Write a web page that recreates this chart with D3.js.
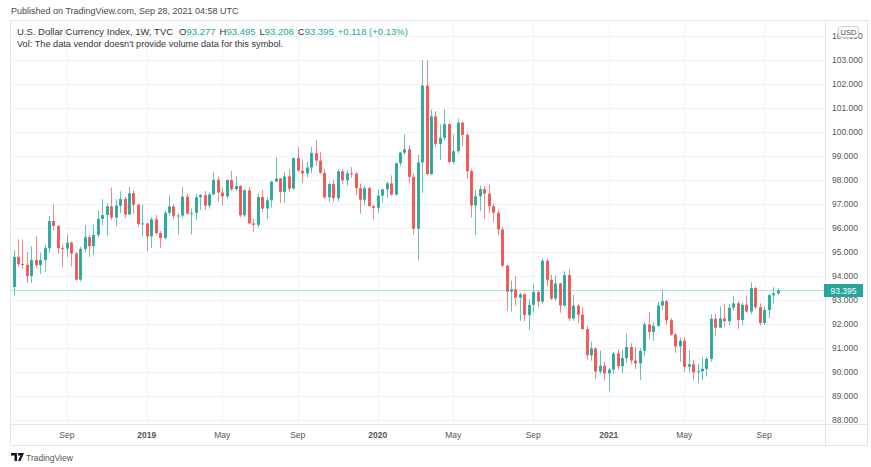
<html>
<head>
<meta charset="utf-8">
<title>U.S. Dollar Currency Index, 1W</title>
<script src="https://d3js.org/d3.v7.min.js"></script>
<style>
  body { margin: 0; background: #fff; }
  text { font-family: "Liberation Sans", Arial, sans-serif; }
</style>
</head>
<body>
<svg id="chart"></svg>
<script>
// weekly bars, first week starts Mon 11 Jun 2018
const open = [
  93.54, 94.80, 94.50, 94.47, 94.00, 94.67, 94.45, 94.67, 95.16, 96.29,
  96.09, 95.16, 95.14, 95.39, 94.94, 93.85, 95.13, 95.62, 95.24, 95.71,
  96.38, 96.54, 96.90, 96.44, 96.93, 97.21, 96.56, 97.45, 96.97, 96.17,
  96.19, 95.65, 96.36, 95.79, 95.58, 96.63, 96.90, 96.51, 96.52, 97.31,
  96.60, 96.63, 97.28, 97.37, 96.93, 97.40, 98.01, 97.48, 97.32, 98.00,
  97.62, 97.75, 96.53, 97.57, 96.19, 96.13, 97.29, 96.81, 97.15, 97.93,
  98.06, 97.51, 98.15, 97.64, 98.92, 98.39, 98.27, 98.52, 99.12, 98.81,
  98.30, 97.28, 97.83, 97.24, 98.36, 97.99, 98.28, 98.27, 97.66, 97.18,
  97.66, 96.91, 96.84, 97.35, 97.61, 97.86, 97.39, 98.70, 99.14, 99.28,
  98.13, 95.97, 98.73, 101.93, 98.25, 100.65, 99.50, 99.76, 100.33, 98.75,
  99.20, 100.39, 99.88, 98.37, 96.94, 97.32, 97.62, 97.43, 96.91, 96.64,
  95.94, 94.43, 93.35, 93.44, 93.10, 93.24, 92.37, 92.80, 93.33, 92.93,
  94.64, 93.84, 93.06, 93.69, 92.77, 94.04, 92.23, 92.76, 92.39, 91.79,
  90.70, 90.98, 90.02, 90.26, 89.94, 90.10, 90.77, 90.24, 90.58, 91.04,
  90.48, 90.36, 90.88, 91.98, 91.67, 91.92, 92.77, 92.95, 92.16, 91.56,
  91.07, 91.30, 90.22, 90.32, 89.99, 90.03, 90.13, 90.55, 92.22, 91.85,
  92.23, 92.12, 92.68, 92.86, 92.17, 92.80, 92.52, 93.50, 92.70, 92.04,
  92.58, 93.20, 93.277
];
const high = [
  95.08, 95.53, 95.53, 94.98, 95.24, 95.65, 94.97, 95.30, 96.50, 96.98,
  96.10, 95.30, 95.74, 95.43, 95.00, 95.21, 96.12, 95.72, 96.14, 96.71,
  97.20, 97.04, 97.69, 97.19, 97.53, 97.30, 97.71, 97.58, 97.00, 96.96,
  96.20, 96.44, 96.54, 95.87, 96.73, 97.37, 96.99, 96.63, 97.71, 97.44,
  96.82, 97.41, 97.42, 97.54, 97.48, 98.32, 98.15, 97.69, 98.04, 98.37,
  98.15, 97.79, 97.62, 97.70, 96.38, 97.44, 97.58, 97.29, 97.96, 98.93,
  98.08, 98.34, 98.44, 98.93, 99.37, 98.85, 98.77, 99.37, 99.67, 99.16,
  98.44, 97.89, 97.99, 98.45, 98.45, 98.39, 98.54, 98.33, 97.84, 97.76,
  97.72, 96.98, 97.60, 97.64, 97.93, 98.19, 98.72, 99.17, 99.91, 99.44,
  98.28, 99.05, 102.99, 102.99, 100.93, 100.87, 100.32, 100.93, 100.40, 99.90,
  100.56, 100.44, 99.97, 98.47, 97.58, 97.77, 97.75, 97.80, 97.02, 96.78,
  96.06, 94.46, 93.80, 93.99, 93.30, 93.26, 93.04, 93.66, 93.40, 94.74,
  94.72, 94.04, 94.02, 93.71, 94.20, 94.30, 93.21, 92.83, 92.70, 91.92,
  91.26, 91.04, 90.90, 90.42, 90.18, 90.83, 90.95, 90.93, 91.60, 91.20,
  91.05, 91.00, 92.09, 92.51, 92.09, 92.92, 93.44, 93.00, 92.25, 91.64,
  91.43, 91.44, 90.91, 90.52, 90.33, 90.63, 90.62, 92.40, 92.41, 92.74,
  92.84, 92.83, 93.19, 92.95, 92.89, 93.19, 93.73, 93.57, 92.86, 92.72,
  93.26, 93.53, 93.495
];
const low = [
  93.20, 94.40, 94.30, 93.71, 93.70, 94.35, 94.08, 94.17, 94.96, 95.90,
  94.94, 94.36, 94.78, 94.40, 93.81, 93.78, 94.98, 94.79, 94.88, 95.60,
  96.11, 95.68, 96.32, 96.08, 96.62, 96.42, 96.55, 96.58, 96.04, 95.65,
  95.03, 95.17, 95.71, 95.16, 95.53, 96.50, 96.37, 95.74, 96.43, 96.56,
  95.74, 96.33, 96.75, 96.75, 96.81, 97.37, 97.10, 96.94, 97.20, 97.55,
  97.55, 96.46, 96.46, 96.15, 95.84, 96.02, 96.67, 96.38, 96.86, 97.92,
  97.03, 97.05, 97.51, 97.61, 98.34, 97.88, 98.10, 98.28, 98.59, 98.25,
  97.22, 97.10, 97.11, 97.10, 97.83, 97.76, 98.09, 97.36, 96.60, 96.94,
  96.90, 96.36, 96.61, 97.08, 97.26, 97.34, 97.35, 98.57, 99.05, 97.87,
  95.73, 94.65, 97.46, 98.20, 98.20, 99.36, 98.82, 99.66, 98.70, 98.65,
  99.10, 99.41, 98.08, 96.43, 95.71, 96.70, 96.37, 96.63, 96.24, 95.71,
  94.37, 92.55, 92.52, 92.77, 92.13, 92.11, 91.75, 92.47, 92.70, 92.85,
  93.58, 92.99, 92.97, 92.47, 92.73, 92.12, 92.13, 92.04, 91.76, 90.51,
  90.47, 89.72, 89.92, 89.64, 89.21, 89.92, 90.10, 89.96, 90.39, 90.32,
  90.12, 89.68, 90.67, 91.38, 91.30, 91.88, 92.57, 91.95, 91.51, 90.79,
  90.42, 90.00, 89.98, 89.65, 89.53, 89.66, 89.81, 90.42, 91.51, 91.83,
  91.87, 91.95, 92.57, 91.78, 91.95, 92.47, 92.40, 92.62, 91.94, 91.95,
  92.25, 92.86, 93.208
];
const close = [
  94.80, 94.50, 94.47, 94.00, 94.67, 94.45, 94.67, 95.16, 96.29, 96.09,
  95.16, 95.14, 95.39, 94.94, 93.85, 95.13, 95.62, 95.24, 95.71, 96.38,
  96.54, 96.90, 96.44, 96.93, 97.21, 96.56, 97.45, 96.97, 96.17, 96.19,
  95.65, 96.36, 95.79, 95.58, 96.63, 96.90, 96.51, 96.52, 97.31, 96.60,
  96.63, 97.28, 97.37, 96.93, 97.40, 98.01, 97.48, 97.32, 98.00, 97.62,
  97.75, 96.53, 97.57, 96.19, 96.13, 97.29, 96.81, 97.15, 97.93, 98.06,
  97.51, 98.15, 97.64, 98.92, 98.39, 98.27, 98.52, 99.12, 98.81, 98.30,
  97.28, 97.83, 97.24, 98.36, 97.99, 98.28, 98.27, 97.66, 97.18, 97.66,
  96.91, 96.84, 97.35, 97.61, 97.86, 97.39, 98.70, 99.14, 99.28, 98.13,
  95.97, 98.73, 101.93, 98.25, 100.65, 99.50, 99.76, 100.33, 98.75, 99.20,
  100.39, 99.88, 98.37, 96.94, 97.32, 97.62, 97.43, 96.91, 96.64, 95.94,
  94.43, 93.35, 93.44, 93.10, 93.24, 92.37, 92.80, 93.33, 92.93, 94.64,
  93.84, 93.06, 93.69, 92.77, 94.04, 92.23, 92.76, 92.39, 91.79, 90.70,
  90.98, 90.02, 90.26, 89.94, 90.10, 90.77, 90.24, 90.58, 91.04, 90.48,
  90.36, 90.88, 91.98, 91.67, 91.92, 92.77, 92.95, 92.16, 91.56, 91.07,
  91.30, 90.22, 90.32, 89.99, 90.03, 90.13, 90.55, 92.22, 91.85, 92.23,
  92.12, 92.68, 92.86, 92.17, 92.80, 92.52, 93.50, 92.70, 92.04, 92.58,
  93.20, 93.28, 93.395
];

const priceTicks = [88, 89, 90, 91, 92, 93, 94, 95, 96, 97, 98, 99, 100, 101, 102, 103, 104];
const timeTicks = ["2018-09", "2019-01", "2019-05", "2019-09", "2020-01", "2020-05",
                   "2020-09", "2021-01", "2021-05", "2021-09"];
const timeLabels = ["Sep", "2019", "May", "Sep", "2020", "May", "Sep", "2021", "May", "Sep"];
const last = { o: "93.277", h: "93.495", l: "93.208", c: "93.395", chg: "+0.118 (+0.13%)" };

const width = 871, height = 467;
const up = "#26a69a", down = "#ef5350";
const grid = "#f0f3fa", border = "#e0e3eb";
const paneLeft = 10, paneRight = 825, paneTop = 20, paneBottom = 424;

const start = new Date(Date.UTC(2018, 5, 11));
const weeks = d3.utcMonday.range(start, d3.utcMonday.offset(start, close.length));
const bars = weeks.map((d, i) => ({date: d, o: open[i], h: high[i], l: low[i], c: close[i]}));

const svg = d3.select("#chart").attr("width", width).attr("height", height);

const x = d3.scalePoint().domain(d3.range(bars.length)).range([13.5, 777.5]);
const y = d3.scaleLinear().domain([88, 103]).range([420, 60]);

const fmtMonth = d3.utcFormat("%Y-%m");
const tickIdx = timeTicks.map(m => bars.findIndex(b => fmtMonth(b.date) === m));

// header
svg.append("text")
    .attr("x", 11).attr("y", 14)
    .attr("font-size", 9).attr("fill", "#4a4a4a")
    .text("Published on TradingView.com, Sep 28, 2021 04:58 UTC");

// frame
svg.append("rect")
    .attr("x", paneLeft + 0.5).attr("y", paneTop + 0.5)
    .attr("width", 857).attr("height", 425)
    .attr("fill", "none").attr("stroke", border);
svg.append("line")
    .attr("x1", paneLeft).attr("x2", 867).attr("y1", paneBottom + 0.5).attr("y2", paneBottom + 0.5)
    .attr("stroke", border);
svg.append("line")
    .attr("x1", paneRight + 0.5).attr("x2", paneRight + 0.5).attr("y1", paneTop).attr("y2", 445)
    .attr("stroke", border);

// grid
svg.append("g").selectAll("line")
    .data(priceTicks)
    .join("line")
    .attr("x1", paneLeft + 1).attr("x2", paneRight)
    .attr("y1", d => Math.round(y(d)) + 0.5).attr("y2", d => Math.round(y(d)) + 0.5)
    .attr("stroke", grid);
svg.append("g").selectAll("line")
    .data(tickIdx)
    .join("line")
    .attr("x1", d => Math.round(x(d)) + 0.5).attr("x2", d => Math.round(x(d)) + 0.5)
    .attr("y1", paneTop + 1).attr("y2", paneBottom)
    .attr("stroke", grid);

// last price line
svg.append("line")
    .attr("x1", paneLeft + 1).attr("x2", paneRight)
    .attr("y1", y(+last.c)).attr("y2", y(+last.c))
    .attr("stroke", "#b7e0db").attr("stroke-width", 1);

// candles
const candle = svg.append("g").selectAll("g")
    .data(bars)
    .join("g")
    .attr("fill", d => d.c >= d.o ? up : down)
    .attr("stroke", d => d.c >= d.o ? up : down);

candle.append("line")
    .attr("x1", (d, i) => Math.round(x(i)) + 0.5).attr("x2", (d, i) => Math.round(x(i)) + 0.5)
    .attr("y1", d => y(d.h)).attr("y2", d => y(d.l))
    .attr("stroke-width", 1).attr("stroke-opacity", 0.7);

candle.append("rect")
    .attr("x", (d, i) => Math.round(x(i)) - 1)
    .attr("width", 3)
    .attr("y", d => y(Math.max(d.o, d.c)))
    .attr("height", d => Math.max(1, Math.abs(y(d.o) - y(d.c))))
    .attr("stroke", "none")
    .attr("fill-opacity", 0.92);

// price axis (the USD badge sits on top of the 104 label, as in the original)
svg.append("g").selectAll("text")
    .data(priceTicks)
    .join("text")
    .attr("x", 832).attr("y", d => y(d) + 3)
    .attr("font-size", 8.5).attr("fill", "#555")
    .text(d => d3.format(".3f")(d));

// time axis
svg.append("g").selectAll("text")
    .data(tickIdx)
    .join("text")
    .attr("x", d => x(d)).attr("y", 438)
    .attr("text-anchor", "middle")
    .attr("font-size", 8.5).attr("fill", "#555")
    .attr("font-weight", (d, i) => /^\d/.test(timeLabels[i]) ? "bold" : "normal")
    .text((d, i) => timeLabels[i]);

// last price label
svg.append("rect")
    .attr("x", 824).attr("y", y(+last.c) - 6.5)
    .attr("width", 39).attr("height", 13)
    .attr("fill", up);
svg.append("text")
    .attr("x", 843.5).attr("y", y(+last.c) + 3)
    .attr("text-anchor", "middle")
    .attr("font-size", 8.5).attr("fill", "#fff")
    .text(last.c);

// currency badge
svg.append("rect")
    .attr("x", 838.5).attr("y", 26.5).attr("width", 20).attr("height", 11).attr("rx", 3)
    .attr("fill", "#fff").attr("stroke", "#c9ccd4");
svg.append("text")
    .attr("x", 848.5).attr("y", 35)
    .attr("text-anchor", "middle")
    .attr("font-size", 7.5).attr("fill", "#444")
    .text("USD");

// legend
const legend = svg.append("text")
    .attr("x", 17).attr("y", 35)
    .attr("font-size", 9.5).attr("fill", "#333");
legend.append("tspan").text("U.S. Dollar Currency Index, 1W, TVC");
[["O", last.o], ["H", last.h], ["L", last.l], ["C", last.c]].forEach(([k, v], i) => {
    legend.append("tspan").attr("dx", i === 0 ? 6 : 4).text(k);
    legend.append("tspan").attr("fill", up).text(v);
});
legend.append("tspan").attr("dx", 4).attr("fill", up).text(last.chg);

svg.append("text")
    .attr("x", 17).attr("y", 47)
    .attr("font-size", 9.2).attr("fill", "#333")
    .text("Vol: The data vendor doesn't provide volume data for this symbol.");

// footer
const logo = svg.append("g").attr("transform", "translate(11,453)");
logo.append("path")
    .attr("d", "M0,0 H6 V8 H3.5 V2.5 H0 Z M7,0 H13 L9.5,8 H7 L9.5,2.5 H7 Z")
    .attr("fill", "#131722");
svg.append("text")
    .attr("x", 26).attr("y", 461)
    .attr("font-size", 8.5).attr("fill", "#555")
    .text("TradingView");
</script>
</body>
</html>
